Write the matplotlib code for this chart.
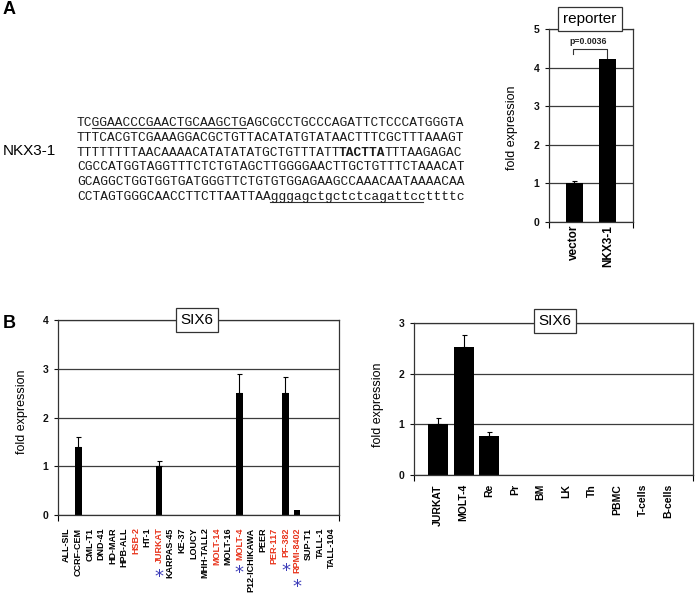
import matplotlib
matplotlib.use('Agg')
import matplotlib.pyplot as plt
from matplotlib.lines import Line2D
import numpy as np

plt.rcParams['font.family'] = ['Liberation Sans', 'DejaVu Sans']

W, H = 697, 597

# ---------------- data ----------------
reporter_labels = ['vector', 'NKX3-1']
reporter_values = [1.0, 4.23]
reporter_errors = [0.06, 0.0]
reporter_title = 'reporter'
reporter_pvalue = 'p=0.0036'

six6_lines = ['ALL-SIL', 'CCRF-CEM', 'CML-T1', 'DND-41', 'HD-MAR', 'HPB-ALL',
              'HSB-2', 'HT-1', 'JURKAT', 'KARPAS-45', 'KE-37', 'LOUCY',
              'MHH-TALL2', 'MOLT-14', 'MOLT-16', 'MOLT-4', 'P12-ICHIKAWA',
              'PEER', 'PER-117', 'PF-382', 'RPMI-8402', 'SUP-T1', 'TALL-1',
              'TALL-104']
six6_values = [0, 1.4, 0, 0, 0, 0, 0, 0, 1.0, 0, 0, 0, 0, 0, 0, 2.5, 0, 0, 0,
               2.5, 0.1, 0, 0, 0]
six6_errors = [0, 0.2, 0, 0, 0, 0, 0, 0, 0.1, 0, 0, 0, 0, 0, 0, 0.4, 0, 0, 0,
               0.33, 0, 0, 0, 0]
six6_red = ['HSB-2', 'JURKAT', 'MOLT-14', 'MOLT-4', 'PER-117', 'PF-382',
            'RPMI-8402']
six6_starred = ['JURKAT', 'MOLT-4', 'PF-382', 'RPMI-8402']

tissue_labels = ['JURKAT', 'MOLT-4', 'Re', 'Pr', 'BM', 'LK', 'Th', 'PBMC',
                 'T-cells', 'B-cells']
tissue_values = [1.0, 2.52, 0.76, 0, 0, 0, 0, 0, 0, 0]
tissue_errors = [0.12, 0.25, 0.08, 0, 0, 0, 0, 0, 0, 0]

seq_name = 'NKX3-1'
seq_lines = [
    'TCGGAACCCGAACTGCAAGCTGAGCGCCTGCCCAGATTCTCCCATGGGTA',
    'TTTCACGTCGAAAGGACGCTGTTACATATGTATAACTTTCGCTTTAAAGT',
    'TTTTTTTTAACAAAACATATATATGCTGTTTATTTACTTATTTAAGAGAC',
    'CGCCATGGTAGGTTTCTCTGTAGCTTGGGGAACTTGCTGTTTCTAAACAT',
    'GCAGGCTGGTGGTGATGGGTTCTGTGTGGAGAAGCCAAACAATAAAACAA',
    'CCTAGTGGGCAACCTTCTTAATTAAgggagctgctctcagattccttttc',
]
seq_bold = {2: (34, 40)}          # TACTTA motif
seq_underline = {0: (2, 22), 5: (25, 45)}   # primers

# ---------------- figure ----------------
fig = plt.figure(figsize=(W / 100, H / 100), dpi=100)


def rect(x0, y0, x1, y1):
    return [x0 / W, 1 - y1 / H, (x1 - x0) / W, (y1 - y0) / H]


def fx(px):
    return px / W


def fy(py):
    return 1 - py / H


GRID = '#3c3c3c'
RED = '#e8341c'
BLUE = '#3a3ab8'


def style_axes(ax, ylim, yticks, tick_fs, xlim):
    ax.set_xlim(*xlim)
    ax.set_ylim(*ylim)
    ax.set_yticks(yticks)
    ax.set_yticklabels([str(t) for t in yticks], fontsize=tick_fs,
                       fontweight='bold')
    ax.yaxis.grid(True, color=GRID, lw=0.9)
    ax.set_axisbelow(True)
    for s in ax.spines.values():
        s.set_color('#333333')
        s.set_linewidth(0.9)
    ax.tick_params(axis='y', length=3, width=0.8, pad=4, colors='#111111')
    ax.set_xticks(list(xlim), minor=True)
    ax.tick_params(axis='x', which='minor', length=4, width=0.8)


def bars(ax, values, errors, width):
    x = np.arange(len(values))
    ax.bar(x, values, width=width, color='black', linewidth=0, zorder=2)
    for xi, v, e in zip(x, values, errors):
        if e > 0:
            ax.errorbar([xi], [v], yerr=[[0], [e]], fmt='none', ecolor='black',
                        elinewidth=0.8, capsize=1.8, capthick=0.8, zorder=3)


def title_box(ax, text, xf, yf):
    ax.text(xf, yf, text, transform=ax.transAxes, ha='center', va='center',
            fontsize=11, zorder=5, clip_on=False,
            bbox=dict(boxstyle='square,pad=0.32', fc='white', ec='#333333',
                      lw=0.9))


# ---- panel letters
fig.text(fx(3), fy(10), 'A', fontsize=13, fontweight='bold', va='center')
fig.text(fx(3), fy(323), 'B', fontsize=13, fontweight='bold', va='center')

# ---- sequence
cw = 7.7
seq_fs = cw / 0.6 * 72 / 100
x_start = 77
base0 = 126
dy = 14.8
for i, line in enumerate(seq_lines):
    yb = base0 + i * dy
    if i in seq_bold:
        a, b = seq_bold[i]
        segs = [(0, a, 'normal'), (a, b, 'bold'), (b, len(line), 'normal')]
    else:
        segs = [(0, len(line), 'normal')]
    for a, b, w in segs:
        fig.text(fx(x_start + a * cw), fy(yb), line[a:b], family='Liberation Mono',
                 fontsize=seq_fs, fontweight=w, va='baseline', ha='left',
                 color='#1a1a1a')
    if i in seq_underline:
        a, b = seq_underline[i]
        fig.add_artist(Line2D([fx(x_start + a * cw), fx(x_start + b * cw)],
                              [fy(yb + 1.8), fy(yb + 1.8)],
                              transform=fig.transFigure, lw=0.8, color='#333333'))
fig.text(fx(3), fy(151), seq_name, fontsize=11, va='center', ha='left')

# ---- reporter panel
axr = fig.add_axes(rect(549, 29, 633, 222))
bars(axr, reporter_values, reporter_errors, 0.5)
style_axes(axr, (0, 5), [0, 1, 2, 3, 4, 5], 7.5, (-0.74, 1.74))
axr.set_xticks(range(len(reporter_labels)))
axr.set_xticklabels(reporter_labels, rotation=90, fontsize=8.5,
                    fontweight='bold', va='top', ha='center')
axr.tick_params(axis='x', which='major', length=0, pad=2)
axr.set_ylabel('fold expression', fontsize=9)
axr.yaxis.set_label_coords(-0.37, 0.49)
title_box(axr, reporter_title, 0.488, 1.05)
# significance bracket
axr.plot([-0.04, -0.04, 0.98, 0.98], [4.35, 4.47, 4.47, 4.25], color='#333333',
         lw=0.8, zorder=4, clip_on=False)
axr.text(0.41, 4.67, reporter_pvalue, ha='center', va='center', fontsize=6.3,
         fontweight='bold', color='#222222')

# ---- SIX6 cell lines panel
axl = fig.add_axes(rect(58, 320, 339, 515))
bars(axl, six6_values, six6_errors, 0.57)
style_axes(axl, (0, 4), [0, 1, 2, 3, 4], 7.5, (-0.76, 23.65))
axl.set_xticks(range(len(six6_lines)))
axl.set_xticklabels(six6_lines, rotation=90, fontsize=6.5, fontweight='bold',
                    va='top', ha='center')
axl.tick_params(axis='x', which='major', length=0, pad=9)
for lab, name in zip(axl.get_xticklabels(), six6_lines):
    if name in six6_red:
        lab.set_color(RED)
axl.set_ylabel('fold expression', fontsize=9)
axl.yaxis.set_label_coords(-0.107, 0.53)
title_box(axl, 'SIX6', 0.495, 1.0)

# ---- SIX6 tissues panel
axt = fig.add_axes(rect(414, 323, 693, 475))
bars(axt, tissue_values, tissue_errors, 0.78)
style_axes(axt, (0, 3), [0, 1, 2, 3], 7.5, (-0.94, 9.96))
axt.set_xticks(range(len(tissue_labels)))
axt.set_xticklabels(tissue_labels, rotation=90, fontsize=7.5,
                    fontweight='bold', va='top', ha='center')
axt.tick_params(axis='x', which='major', length=0, pad=6.5)
axt.set_ylabel('fold expression', fontsize=9)
axt.yaxis.set_label_coords(-0.1075, 0.46)
title_box(axt, 'SIX6', 0.505, 1.015)

# ---- stars under selected labels
fig.canvas.draw()
for idx, (lab, name) in enumerate(zip(axl.get_xticklabels(), six6_lines)):
    if name in six6_starred:
        bb = lab.get_window_extent()
        ybase = bb.y0 - 8 - 10.6
        xdisp = axl.transData.transform((idx, 0))[0]
        fig.text(xdisp / W, ybase / H, '*', family='DejaVu Sans', fontsize=13,
                 color=BLUE, ha='center', va='baseline')

fig.savefig('out.png', dpi=100)
